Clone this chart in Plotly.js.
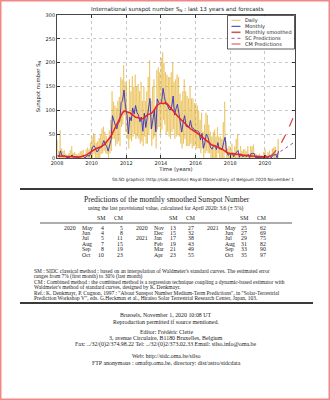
<!DOCTYPE html>
<html>
<head>
<meta charset="utf-8">
<script src="https://cdn.plot.ly/plotly-3.0.1.min.js"></script>
<style>
html,body{margin:0;padding:0;background:#fff;}
#chart{width:330px;height:400px;}
</style>
</head>
<body>
<div id="chart"></div>
<script>
// ---------------- DATA ----------------
const firstYear = 2008;
// Monthly mean sunspot number, Jan 2008 .. Oct 2020
const monthlyMean = [
  5.0,2.5,15.0,4.7,4.0,4.5,0.8,0.5,1.1,3.5,6.5,1.6,
  2.3,1.4,0.7,1.2,2.9,2.9,3.2,0.0,4.3,4.8,4.1,10.8,
  21.6,26.0,22.0,13.5,14.2,21.7,21.3,28.1,36.5,29.1,23.9,14.4,
  27.0,38.7,88.8,77.0,68.9,61.1,73.2,75.9,116.3,120.1,142.5,108.1,
  91.3,50.3,85.7,78.0,105.0,92.0,110.0,95.0,90.0,76.0,86.0,56.0,
  94.0,64.0,85.0,111.0,125.0,61.0,84.0,100.0,55.0,124.0,116.0,114.0,
  117.0,146.1,128.7,112.5,112.5,102.9,100.2,106.9,130.0,90.0,103.6,112.9,
  93.0,66.7,54.5,75.3,88.8,66.5,65.8,64.4,78.6,63.6,62.2,58.0,
  57.0,56.4,54.1,37.9,51.5,20.5,32.4,50.2,44.6,33.4,21.4,18.5,
  26.1,26.4,17.7,32.3,18.9,19.2,17.8,32.6,43.6,13.2,5.7,8.2,
  6.8,10.7,2.5,8.9,13.1,15.6,1.6,8.7,3.3,4.9,4.9,3.1,
  7.7,0.8,9.4,9.1,9.9,1.2,0.9,0.5,1.1,0.4,0.5,1.5,
  6.2,0.2,1.5,5.2,0.2,5.8,6.1,7.5,0.6,14.4
];
// 13-month smoothed sunspot number, Jan 2008 .. Apr 2020
const monthlySmoothed = [
  4.1,3.9,3.8,3.8,3.9,3.6,3.3,3.1,3.0,2.8,2.5,2.2,
  1.8,1.9,2.0,2.2,2.7,3.3,4.3,5.5,6.6,8.5,10.8,13.0,
  14.7,16.5,18.5,20.0,21.8,22.5,23.5,25.2,27.5,30.5,34.0,39.3,
  42.0,46.0,52.0,58.5,64.8,70.8,78.7,84.7,90.1,94.9,98.3,97.5,
  97.0,96.0,95.1,92.6,89.6,86.8,85.2,84.8,84.5,84.5,83.0,82.5,
  84.6,87.8,90.1,91.6,92.2,93.6,97.0,101.9,106.1,110.0,113.2,115.0,
  115.1,114.0,115.5,116.4,113.3,109.4,105.9,102.7,98.5,94.2,90.4,87.9,
  85.1,81.8,78.6,75.5,72.4,69.2,66.6,63.6,61.3,59.4,57.6,55.9,
  54.1,52.0,49.6,46.9,44.2,41.3,38.2,35.3,33.2,31.2,29.0,27.2,
  26.6,25.3,23.8,22.6,21.6,20.3,18.4,16.3,14.0,12.1,10.6,9.8,
  9.2,8.7,8.6,8.4,8.0,7.5,6.9,6.6,6.3,6.2,5.9,5.4,
  5.0,4.8,4.4,4.1,3.8,3.5,3.4,3.1,2.6,2.1,1.9,1.8,
  1.9,2.2,2.5,3.6
];
// Daily values: highest and lowest daily value in each month, Jan 2008 .. Oct 2020
const dailyHigh = [
  38,15,58,20,15,16,8,5,10,16,25,10,
  12,9,7,10,14,15,17,0,18,22,18,32,
  45,52,48,32,35,42,48,62,66,55,46,38,
  58,80,140,118,110,105,120,128,170,165,195,160,
  155,95,165,140,172,150,175,150,155,140,160,120,
  150,120,140,170,205,120,150,165,110,185,190,180,
  210,222,200,180,175,170,170,180,200,160,165,175,
  170,135,120,140,165,140,130,125,150,125,125,115,
  115,110,100,80,95,55,70,95,90,70,55,45,
  55,60,45,65,45,45,40,75,118,35,20,25,
  20,30,12,25,40,50,10,25,15,18,18,14,
  25,8,25,24,28,10,8,5,9,5,5,12,
  18,4,12,15,4,20,22,24,8,40
];
const dailyLow = [
  0,0,0,0,0,0,0,0,0,0,0,0,
  0,0,0,0,0,0,0,0,0,0,0,0,
  0,8,0,0,0,0,8,10,15,10,8,0,
  10,15,40,40,25,30,35,25,65,70,90,55,
  40,20,40,35,45,50,40,45,40,30,35,25,
  45,30,30,50,60,25,40,45,20,60,65,50,
  60,80,70,50,55,45,40,55,60,40,45,50,
  45,30,20,30,40,25,25,25,30,20,25,25,
  20,20,20,10,20,0,10,15,10,10,0,0,
  0,0,0,10,0,0,0,0,10,0,0,0,
  0,0,0,0,0,0,0,0,0,0,0,0,
  0,0,0,0,0,0,0,0,0,0,0,0,
  0,0,0,0,0,0,0,0,0,0
];
// Predictions table (May 2020 .. Oct 2021)
const predMonths = ['2020-05','2020-06','2020-07','2020-08','2020-09','2020-10',
                    '2020-11','2020-12','2021-01','2021-02','2021-03','2021-04',
                    '2021-05','2021-06','2021-07','2021-08','2021-09','2021-10'];
const smPred = [4,4,5,7,8,10,13,15,17,19,21,23,25,27,29,31,33,35];
const cmPred = [5,8,11,15,19,23,27,32,38,43,49,55,62,69,75,82,90,97];
const monthNames = ['Jan','Feb','Mar','Apr','May','Jun','Jul','Aug','Sep','Oct','Nov','Dec'];
const yTicks = [0,50,100,150,200,250,300];

const footnotes = [
  "SM : SIDC classical method : based on an interpolation of Waldmeier's standard curves. The estimated error",
  "ranges from 7% (first month) to 30% (last month)",
  "CM : Combined method : the combined method is a regression technique coupling a dynamic-based estimator with",
  "Waldmeier's method of standard curves, designed by K. Denkmayr.",
  "Ref.: K. Denkmayr, P. Cugnon, 1997 : \"About Sunspot Number Medium-Term Predictions\", in \"Solar-Terrestrial",
  "Prediction Workshop V\", eds. G.Heckman et al., Hiraiso Solar Terrestrial Research Center, Japan, 103."
];
const footerLines = [
  "Brussels, November 1, 2020 10:08 UT",
  "Reproduction permitted if source mentioned.",
  "Editor: Frédéric Clette",
  "3, avenue Circulaire, B1180 Bruxelles, Belgium",
  "Fax: ../32/(0)2/374.98.22 Tel: ../32/(0)2/373.02.33 Email: silso.info@oma.be",
  "Web: http://sidc.oma.be/silso",
  "FTP anonymous : omaftp.oma.be, directory: dist/astro/sidcdata"
];

// ---------------- BUILD ----------------
function monthLabel(i){
  const y = firstYear + Math.floor(i/12);
  const m = (i % 12) + 1;
  return y + '-' + (m < 10 ? '0' + m : m);
}
const monthX = monthlyMean.map((v,i)=>monthLabel(i)+'-15');
const smoothX = monthlySmoothed.map((v,i)=>monthLabel(i)+'-15');
const dailyX = [], dailyY = [];
dailyHigh.forEach((h,i)=>{
  dailyX.push(monthLabel(i)+'-07'); dailyY.push(h);
  dailyX.push(monthLabel(i)+'-22'); dailyY.push(dailyLow[i]);
});
const lastSmoothX = smoothX[smoothX.length-1];
const lastSmoothY = monthlySmoothed[monthlySmoothed.length-1];
const predX = [lastSmoothX].concat(predMonths.map(m=>m+'-15'));

const traces = [
  {x: dailyX, y: dailyY, type:'scatter', mode:'lines', name:'Daily',
   line:{color:'rgba(226,166,18,0.62)', width:0.7}, hoverinfo:'skip'},
  {x: monthX, y: monthlyMean, type:'scatter', mode:'lines', name:'Monthly',
   line:{color:'#3030c8', width:0.9}},
  {x: smoothX, y: monthlySmoothed, type:'scatter', mode:'lines', name:'Monthly smoothed',
   line:{color:'#ee2020', width:1.5}},
  {x: predX, y: [lastSmoothY].concat(smPred), type:'scatter', mode:'lines', name:'SC Predictions',
   line:{color:'#b050a0', width:1, dash:'dot'}},
  {x: predX, y: [lastSmoothY].concat(cmPred), type:'scatter', mode:'lines', name:'CM Predictions',
   line:{color:'#e04040', width:1.2, dash:'dash'}}
];

// pixel -> paper helpers
const L=57, R=295, T=15, B=158;
const px = p => (p-L)/(R-L);
const py = p => (B-p)/(B-T);

const annotations = [];
const shapes = [];
function ann(text, x, y, size, family, xanchor, extra){
  annotations.push(Object.assign({text:text, x:px(x), y:py(y), xref:'paper', yref:'paper',
    showarrow:false, xanchor:xanchor||'center', yanchor:'middle', borderpad:0,
    font:{size:size, family:family, color:'#222'}}, extra||{}));
}
function hline(x0,x1,y,w,c){
  shapes.push({type:'line', xref:'paper', yref:'paper', x0:px(x0), x1:px(x1), y0:py(y), y1:py(y),
    line:{color:c, width:w}});
}
const SANS = 'DejaVu Sans, sans-serif';
const SERIF = 'Liberation Serif, DejaVu Serif, serif';

// chart title + credit
ann('International sunspot number S<sub>N</sub> : last 13 years and forecasts', 177, 9.5, 5.6, SANS);
ann('SILSO graphics (http://sidc.be/silso) Royal Observatory of Belgium 2020 November 1', 295, 179, 4.3, SANS, 'right');

// legend (manual, compact)
shapes.push({type:'rect', xref:'paper', yref:'paper', x0:px(227.5), x1:px(294.5), y0:py(15.5), y1:py(49),
  line:{color:'#333', width:0.8}, fillcolor:'rgba(255,255,255,0.95)', layer:'above'});
const legendItems = [
  ['Daily', 'rgb(235,190,90)', 1, 'solid'],
  ['Monthly', '#3030c8', 1, 'solid'],
  ['Monthly smoothed', '#c85a50', 1.6, 'solid'],
  ['SC Predictions', '#b050a0', 1, 'dot'],
  ['CM Predictions', '#e04040', 1, 'dash']
];
const legendY = [20.3, 26.3, 32.3, 38.3, 44];
legendItems.forEach((it,k)=>{
  shapes.push({type:'line', xref:'paper', yref:'paper', x0:px(231.5), x1:px(240.5), y0:py(legendY[k]), y1:py(legendY[k]),
    line:{color:it[1], width:it[2], dash:it[3]}, layer:'above'});
  ann(it[0], 244, legendY[k], 5, SANS, 'left');
});

// rules
hline(20, 313, 189, 2, '#3a3a3a');
hline(40, 292, 223, 0.8, '#333');
hline(20, 313, 303, 2, '#3a3a3a');

// predictions header text
ann('Predictions of the monthly smoothed Sunspot Number', 167, 199, 7.6, SERIF);
ann('using the last provisional value, calculated for April 2020: ' + lastSmoothY + ' (± 5%)', 166, 208, 5.6, SERIF);

// table
const groupOffset = [0, 71.5, 143];
groupOffset.forEach(off=>{
  ann('SM', 101+off, 217.5, 5.8, SERIF);
  ann('CM', 118.5+off, 217.5, 5.8, SERIF);
});
predMonths.forEach((m,i)=>{
  const g = Math.floor(i/6), r = i % 6;
  const off = groupOffset[g];
  const yy = 227.5 + r*5.45;
  const parts = m.split('-');
  const mi = parseInt(parts[1],10)-1;
  if (r === 0 || mi === 0) ann(parts[0], 77+off, yy, 5.8, SERIF, 'right');
  ann(monthNames[mi], 81+off, yy, 5.8, SERIF, 'left');
  ann(String(smPred[i]), 105+off, yy, 5.8, SERIF, 'right');
  ann(String(cmPred[i]), 123.5+off, yy, 5.8, SERIF, 'right');
});

// footnotes
const fnY = [271.3, 276.7, 282, 287.3, 292.7, 298];
footnotes.forEach((t,k)=>ann(t, 33, fnY[k], 5.45, SERIF, 'left'));

// footer
const ftY = [314.7, 321.7, 332.3, 337.7, 344, 355.7, 362.7];
footerLines.forEach((t,k)=>ann(t, 166, ftY[k], 5.9, SERIF));

// pink page border
shapes.push({type:'rect', xref:'paper', yref:'paper', x0:px(0.75), x1:px(329.25), y0:py(0.75), y1:py(399.25),
  line:{color:'#f08888', width:1.5}, fillcolor:'rgba(0,0,0,0)'});

const layout = {
  width:330, height:400,
  margin:{l:L, r:330-R, t:T, b:400-B, pad:0},
  paper_bgcolor:'#fff', plot_bgcolor:'#fff',
  showlegend:false,
  font:{family:SANS, size:5, color:'#222'},
  xaxis:{type:'date', range:['2008-01-01','2021-09-28'],
    tick0:'2008-01-01', dtick:'M24', tickformat:'%Y',
    showgrid:true, gridcolor:'#b0b0b0', griddash:'dot', gridwidth:0.7,
    showline:true, linecolor:'#333', linewidth:0.9, mirror:'ticks',
    ticks:'inside', ticklen:3, tickcolor:'#333', tickfont:{size:5, family:SANS},
    zeroline:false, automargin:false,
    title:{text:'Time (years)', font:{size:5.3, family:SANS}, standoff:2}},
  yaxis:{range:[0,300], tickvals:yTicks, ticktext:yTicks.map(String),
    showgrid:true, gridcolor:'#b0b0b0', griddash:'dot', gridwidth:0.7,
    showline:true, linecolor:'#333', linewidth:0.9, mirror:'ticks',
    ticks:'inside', ticklen:3, tickcolor:'#333', tickfont:{size:5, family:SANS},
    zeroline:false, automargin:false,
    title:{text:'Sunspot number S<sub>N</sub>', font:{size:5.3, family:SANS}, standoff:4}},
  annotations:annotations,
  shapes:shapes
};

Plotly.newPlot('chart', traces, layout, {displayModeBar:false, staticPlot:true});
</script>
</body>
</html>
